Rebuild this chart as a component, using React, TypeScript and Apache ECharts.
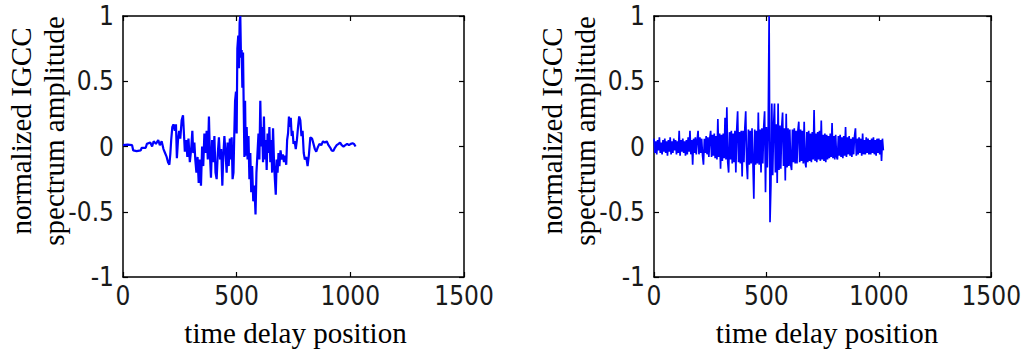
import React, { useEffect, useRef } from "react";
import * as echarts from "echarts";

const xTicks = [0, 500, 1000, 1500];
const yTicks = [-1, -0.5, 0, 0.5, 1];
const yTitleLines = ["normalized IGCC", "spectrum amplitude"];
const xTitle = "time delay position";

// Left panel: sample positions and normalized amplitudes
const leftX = [
  0, 20, 40, 45, 60, 78, 82, 100, 105, 120, 128, 135, 145, 155, 162, 170, 178, 185, 192, 198,
  204, 208, 212, 217, 222, 228, 233, 237, 242, 247, 252, 258, 264, 268, 272, 278, 283, 288, 294, 300,
  305, 309, 314, 318, 323, 328, 333, 338, 343, 348, 353, 358, 363, 368, 373, 378, 382, 387, 392, 397,
  402, 407, 412, 417, 422, 427, 432, 437, 441, 446, 451, 456, 460, 465, 470, 474, 478, 482, 486, 489,
  493, 497, 500, 503, 507, 510, 513, 516, 519, 522, 525, 528, 531, 534, 537, 540, 544, 548, 552, 556,
  560, 564, 568, 573, 578, 583, 587, 591, 596, 600, 604, 608, 612, 616, 620, 624, 628, 632, 636, 640,
  644, 648, 652, 656, 660, 664, 668, 672, 676, 680, 684, 688, 693, 698, 703, 708, 713, 718, 722, 726,
  730, 734, 738, 742, 746, 750, 755, 760, 765, 770, 775, 780, 785, 790, 795, 800, 806, 812, 818, 824,
  832, 838, 844, 850, 856, 864, 872, 880, 888, 896, 904, 912, 918, 925, 932, 940, 948, 955, 962, 970,
  978, 986, 994, 1002, 1010, 1016, 1023,
];
const leftY = [
  0.01, 0.015, 0.01, -0.03, -0.035, -0.03, -0.01, -0.01, 0.02, 0.03, 0.0, 0.04, 0.02, 0.05, 0.01, 0.04, -0.02, -0.05, -0.08, -0.12,
  -0.14, -0.06, 0.05, 0.15, 0.17, 0.12, 0.17, -0.09, 0.05, 0.12, 0.06, 0.2, 0.24, 0.1, -0.04, 0.05, -0.08, 0.06, -0.12, -0.02,
  0.12, -0.05, 0.03, -0.1, -0.2, -0.08, -0.28, -0.1, -0.3, 0.0, -0.15, 0.1, -0.05, 0.12, -0.1, 0.23, -0.05, -0.24, 0.05, -0.12,
  0.08, -0.2, -0.25, -0.05, 0.07, -0.1, -0.02, -0.3, -0.08, 0.08, -0.05, -0.2, 0.03, -0.15, 0.06, -0.1, 0.07, -0.25, -0.2, 0.05,
  0.35, 0.42, 0.1, 0.75, 0.85, 0.6, 0.95, 1.0, 0.68, 0.74, 0.45, 0.72, 0.3, -0.08, 0.35, -0.07, 0.15, -0.1, 0.08, -0.25,
  -0.05, -0.35, -0.15, -0.42, -0.3, -0.52, -0.2, -0.07, 0.1, -0.1, 0.35, 0.0, 0.15, -0.12, 0.23, -0.1, 0.05, -0.18, 0.1, -0.05,
  0.15, -0.12, 0.05, -0.2, 0.14, -0.1, -0.25, -0.37, -0.1, -0.2, -0.05, -0.15, -0.03, -0.1, -0.06, -0.12, -0.07, -0.14, 0.05, 0.1,
  0.23, 0.15, 0.22, 0.08, 0.12, 0.02, 0.04, -0.02, 0.05, 0.15, 0.23, 0.2, 0.08, 0.12, -0.05, -0.1, -0.08, -0.15, -0.06, 0.07,
  0.06, 0.02, -0.02, -0.04, -0.01, 0.02, 0.01, 0.04, 0.03, 0.04, 0.01, -0.01, -0.03, -0.035, -0.01, 0.01, 0.02, 0.03, 0.01, 0.0,
  0.01, 0.02, 0.01, 0.02, 0.025, 0.02, 0.0,
];

// Right panel: amplitudes sampled every rightStep positions
const rightStep = 4;
const rightY = [
  0.06, -0.05, 0.04, -0.06, 0.05, -0.03, 0.07, -0.05, 0.03, -0.06, 0.05, -0.04, 0.06, -0.05, 0.04, -0.07,
  0.05, -0.04, 0.07, -0.06, 0.04, -0.05, 0.06, -0.03, 0.05, -0.06, 0.04, -0.05, 0.12, -0.07, 0.05, -0.04,
  0.06, -0.05, 0.04, -0.07, 0.05, -0.06, 0.07, -0.04, 0.12, -0.06, 0.05, -0.14, 0.06, -0.05, 0.07, -0.06,
  0.05, 0.12, -0.06, 0.07, -0.05, 0.06, -0.07, -0.14, 0.06, -0.05, 0.08, -0.06, 0.07, -0.08, 0.06, 0.12,
  -0.08, 0.09, -0.07, 0.1, -0.09, 0.08, -0.1, 0.21, -0.08, 0.1, -0.17, 0.09, -0.11, 0.1, -0.09, 0.22,
  -0.1, 0.3, -0.12, -0.2, 0.11, -0.1, 0.12, -0.13, 0.1, -0.12, 0.12, -0.2, 0.13, 0.27, -0.12, 0.11,
  -0.13, 0.12, -0.23, 0.12, -0.12, 0.14, 0.27, -0.13, -0.25, 0.13, -0.14, 0.12, -0.13, 0.14, -0.12, -0.4,
  0.13, -0.14, 0.12, -0.13, 0.26, -0.14, 0.13, -0.2, 0.14, -0.13, 0.15, 0.27, -0.35, 0.15, -0.16, 0.14,
  1.0, -0.58, -0.3, 0.33, -0.22, 0.16, 0.33, -0.2, 0.17, -0.28, 0.33, -0.18, 0.16, -0.17, 0.15, 0.26,
  -0.15, 0.14, -0.26, 0.25, -0.16, 0.14, -0.15, 0.13, -0.14, -0.18, 0.13, -0.12, 0.14, -0.13, 0.12, -0.13,
  0.12, 0.19, -0.12, 0.13, -0.11, 0.12, -0.13, 0.19, -0.12, -0.16, 0.11, -0.12, 0.12, -0.11, 0.1, -0.12,
  0.11, -0.1, 0.28, -0.11, 0.1, -0.12, 0.11, -0.1, 0.12, -0.11, 0.2, -0.1, 0.09, -0.11, 0.1, -0.12,
  0.09, -0.1, 0.08, -0.09, 0.1, -0.08, 0.18, -0.09, 0.08, -0.1, 0.09, -0.08, -0.1, 0.08, -0.07, 0.09,
  -0.08, 0.07, -0.09, 0.08, -0.07, 0.15, -0.08, 0.07, -0.06, 0.08, -0.07, 0.06, -0.08, 0.07, -0.06, 0.08,
  0.14, -0.07, 0.06, -0.06, 0.07, -0.05, 0.06, -0.07, 0.1, -0.06, 0.05, -0.06, 0.07, -0.05, 0.06, -0.06,
  0.05, -0.06, 0.06, -0.05, 0.07, -0.06, 0.05, -0.07, 0.06, -0.05, 0.06, -0.06, 0.05, -0.11, 0.06, -0.03,
];

const tickFont = "'Liberation Sans Narrow', 'DejaVu Sans Condensed', 'Liberation Sans', Arial, sans-serif";
const titleFont = "'Liberation Serif', 'Times New Roman', 'DejaVu Serif', serif";

const grids = [
  { left: 123, right: 560, top: 16, bottom: 74 },
  { left: 654, right: 28, top: 16, bottom: 74 },
];

const tickFormatter = (v: number) => String(v);

function makeXAxes(gridIndex: number) {
  const base = {
    type: "value",
    gridIndex,
    min: xTicks[0],
    max: xTicks[xTicks.length - 1],
    interval: xTicks[1] - xTicks[0],
    splitLine: { show: false },
    axisLine: { show: true, onZero: false, lineStyle: { color: "#000", width: 1.5 } },
    axisTick: { show: true, inside: true, length: 5, lineStyle: { color: "#000", width: 1.2 } },
  };
  return [
    {
      ...base,
      position: "bottom",
      axisLabel: {
        show: true,
        fontFamily: tickFont,
        fontSize: 26,
        color: "#1a1a1a",
        margin: 6,
        formatter: tickFormatter,
      },
    },
    { ...base, position: "top", axisLabel: { show: false } },
  ];
}

function makeYAxes(gridIndex: number) {
  const base = {
    type: "value",
    gridIndex,
    min: yTicks[0],
    max: yTicks[yTicks.length - 1],
    interval: yTicks[1] - yTicks[0],
    splitLine: { show: false },
    axisLine: { show: true, onZero: false, lineStyle: { color: "#000", width: 1.5 } },
    axisTick: { show: true, inside: true, length: 5, lineStyle: { color: "#000", width: 1.2 } },
  };
  return [
    {
      ...base,
      position: "left",
      axisLabel: {
        show: true,
        fontFamily: tickFont,
        fontSize: 26,
        color: "#1a1a1a",
        margin: 9,
        formatter: tickFormatter,
      },
    },
    { ...base, position: "right", axisLabel: { show: false } },
  ];
}

function titleTexts(plotLeft: number, plotCenterX: number) {
  const mk = (text: string, x: number, y: number, rotated: boolean) => ({
    type: "text",
    x,
    y,
    rotation: rotated ? Math.PI / 2 : 0,
    style: {
      text,
      font: `29px ${titleFont}`,
      fill: "#000",
      textAlign: "center",
      textVerticalAlign: "middle",
    },
  });
  return [
    mk(yTitleLines[0], plotLeft - 102, 131, true),
    mk(yTitleLines[1], plotLeft - 69, 131, true),
    mk(xTitle, plotCenterX + 2, 333, false),
  ];
}

export default function App() {
  const ref = useRef<HTMLDivElement>(null);

  useEffect(() => {
    if (!ref.current) return;
    const chart = echarts.init(ref.current, null, { renderer: "svg" });
    const leftData = leftX.map((x, i) => [x, leftY[i]]);
    const rightData = rightY.map((v, i) => [i * rightStep, v]);

    chart.setOption({
      animation: false,
      backgroundColor: "#fff",
      grid: grids,
      xAxis: [...makeXAxes(0), ...makeXAxes(1)],
      yAxis: [...makeYAxes(0), ...makeYAxes(1)],
      series: [
        {
          type: "line",
          xAxisIndex: 0,
          yAxisIndex: 0,
          data: leftData,
          showSymbol: false,
          lineStyle: { color: "#0000ff", width: 2.2 },
          clip: true,
        },
        {
          type: "line",
          xAxisIndex: 2,
          yAxisIndex: 2,
          data: rightData,
          showSymbol: false,
          lineStyle: { color: "#0000ff", width: 1.7 },
          clip: true,
        },
      ],
      graphic: [...titleTexts(123, 293.5), ...titleTexts(654, 825)],
    });

    return () => chart.dispose();
  }, []);

  return (
    <div
      ref={ref}
      style={{ position: "fixed", left: 0, top: 0, width: 1024, height: 351, background: "#fff" }}
    />
  );
}
